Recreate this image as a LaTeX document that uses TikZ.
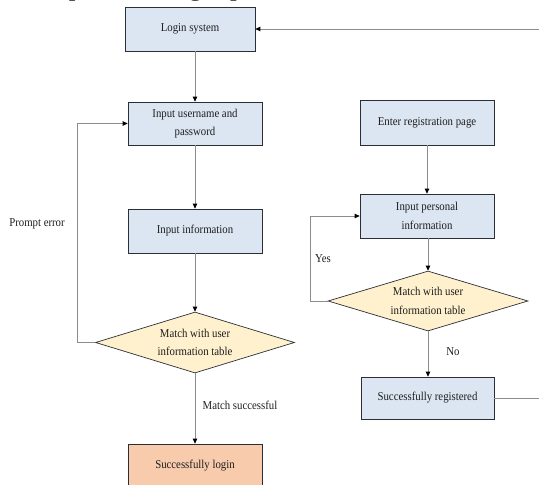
\documentclass[tikz,border=0pt]{standalone}
\usepackage{fontspec}
\setmainfont{Liberation Serif}[FakeStretch=0.9]
\newfontfamily\plainserif{Liberation Serif}
\usetikzlibrary{shapes.geometric,arrows.meta}
\definecolor{boxblue}{HTML}{DCE6F2}
\definecolor{boxline}{HTML}{2A2E36}
\definecolor{decfill}{HTML}{FFF1CE}
\definecolor{okfill}{HTML}{F8CBAD}
\definecolor{wire}{HTML}{8C8C8C}
\definecolor{ink}{HTML}{1E1E1E}
\begin{document}
\begin{tikzpicture}[x=1pt,y=-1pt,
  every node/.style={font=\fontsize{12}{18.5}\selectfont, text=ink},
  procbox/.style={draw=boxline, line width=0.7pt, fill=boxblue,
    minimum width=134pt, minimum height=44pt, align=center, inner sep=0pt},
  okbox/.style={procbox, fill=okfill},
  decision/.style={diamond, draw=boxline, line width=0.7pt, fill=decfill,
    minimum width=199pt, minimum height=61pt, inner sep=0pt},
  conn/.style={draw=wire, line width=0.8pt,
    -{Triangle[length=5pt,width=4.5pt,color=black,fill=black]}},
  plain/.style={draw=wire, line width=0.8pt},
  lbl/.style={inner sep=0pt}
]
\useasboundingbox (0,0) rectangle (539,485);

% running text of the page above the chart
\node[anchor=base east, inner sep=0pt, font=\plainserif\fontsize{27}{30}\selectfont] (head) at (318,-4.5) {n complete the login process.};

% login branch
\node[procbox, minimum width=130pt] (login) at (190,29) {Login system};
\node[procbox, minimum height=43pt] (user) at (195,123.5) {Input username and\\password};
\node[procbox] (info) at (195,231) {Input information};
\node[decision] (dia1) at (195,342.5) {};
\node[align=center, inner sep=0pt] (dia1txt) at (dia1) {Match with user\\information table};
\node[okbox] (succ) at (195,466) {Successfully login};

% registration branch
\node[procbox, minimum height=45pt] (reg) at (427,122.5) {Enter registration page};
\node[procbox] (pers) at (427,216) {Input personal\\information};
\node[decision, minimum width=200pt, minimum height=60pt] (dia2) at (428,301) {};
\node[align=center, inner sep=0pt] (dia2txt) at (dia2) {Match with user\\information table};
\node[procbox, minimum width=133pt, minimum height=42pt] (regok) at (427.5,398) {Successfully registered};

% free ends at the right margin
\coordinate (backin) at (539,29);
\coordinate (regout) at (539,398);

% connectors
\draw[conn] (user.north |- login.south) -- (user.north);
\draw[conn] (user) -- (info);
\draw[conn] (info) -- (dia1);
\draw[conn] (dia1) -- (succ);
\draw[conn] (dia1.west) -- ++(-18,0) |- (user.west);
\draw[conn] (backin) -- (login.east);

\draw[conn] (reg) -- (pers);
\draw[conn] (pers.south -| dia2.north) -- (dia2.north);
\draw[conn] (dia2.south) -- (regok.north -| dia2.south);
\draw[conn] (dia2.west) -- ++(-17,0) |- (pers.west);
\draw[plain] (regok.east) -- (regout);

% connector labels
\node[lbl] (lpe) at (37,224) {Prompt error};
\node[lbl] (lms) at (240,405) {Match successful};
\node[lbl] (lyes) at (323,259) {Yes};
\node[lbl] (lno) at (453,352) {No};
\end{tikzpicture}
\end{document}
